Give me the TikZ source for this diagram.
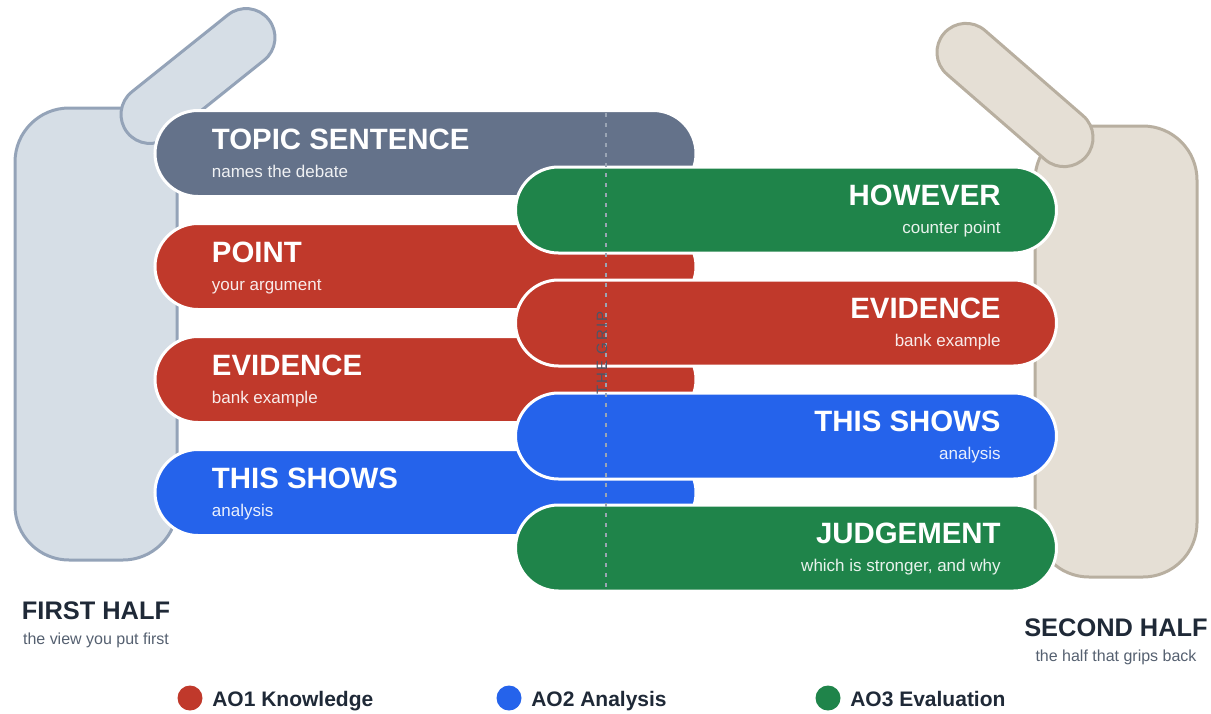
\documentclass[tikz,border=0pt]{standalone}
\usepackage{fontspec}
\setmainfont{Liberation Sans}
\usetikzlibrary{positioning}
\definecolor{slate}{HTML}{64728A}
\definecolor{aored}{HTML}{C0392B}
\definecolor{aoblue}{HTML}{2563EB}
\definecolor{aogreen}{HTML}{1F844A}
\definecolor{palmL}{HTML}{D6DEE6}
\definecolor{edgeL}{HTML}{94A3B8}
\definecolor{palmR}{HTML}{E5DFD5}
\definecolor{edgeR}{HTML}{B8AFA0}
\definecolor{ink}{HTML}{1F2937}
\definecolor{subink}{HTML}{556070}
\definecolor{gripink}{HTML}{4B5668}
\definecolor{gripgray}{HTML}{9AA5B4}

\tikzset{
 handL/.style={fill=palmL, draw=edgeL, line width=1.5pt},
 handR/.style={fill=palmR, draw=edgeR, line width=1.5pt},
 thumb/.style={minimum width=#1, minimum height=29pt, rounded corners=14.5pt, inner sep=0pt},
 bar/.style={draw=white, line width=1.5pt, minimum width=270.5pt, minimum height=43pt, rounded corners=21.5pt, inner sep=0pt},
 ttl/.style={text=white, font=\fontsize{14.7}{16}\selectfont\bfseries, inner sep=0pt},
 sub/.style={text=white, text opacity=.9, font=\fontsize{8.5}{10}\selectfont, inner sep=0pt},
 half/.style={text=ink, font=\fontsize{12.7}{14}\selectfont\bfseries, inner sep=0pt},
 halfsub/.style={text=subink, font=\fontsize{8}{10}\selectfont, inner sep=0pt},
 dot/.style={circle, minimum size=12.5pt, inner sep=0pt},
 legtxt/.style={text=ink, font=\fontsize{10.5}{12}\selectfont\bfseries, inner sep=0pt},
}

\begin{document}
\begin{tikzpicture}[x=0.5pt, y=-0.5pt]
\useasboundingbox (0,0) rectangle (1211,713);

% the two hands
\draw[handL, rounded corners=27pt] (15,108) rectangle (177,560);
\node[handL, thumb=90.5pt, rotate=38.7] (thumbL) at (198,76) {};
\draw[handR, rounded corners=27pt] (1035,126) rectangle (1197,577);
\node[handR, thumb=94pt, rotate=-41] (thumbR) at (1015,95) {};

% first half, left aligned text
\foreach \i/\col/\y/\ttl/\sub in {1/slate/153.5/TOPIC SENTENCE/names the debate,
  2/aored/266.5/POINT/your argument,
  3/aored/379.5/EVIDENCE/bank example,
  4/aoblue/492.5/THIS SHOWS/analysis} {
 \node[bar, fill=\col] (barL\i) at (425.5,\y) {};
 \node[ttl, anchor=base west] at ([xshift=29pt,yshift=-20pt]barL\i.north west) {\ttl};
 \node[sub, anchor=base west] at ([xshift=29pt,yshift=-34pt]barL\i.north west) {\sub};
}

% second half, right aligned text
\foreach \i/\col/\y/\ttl/\sub in {1/aogreen/210/HOWEVER/counter point,
  2/aored/323/EVIDENCE/bank example,
  3/aoblue/436/THIS SHOWS/analysis,
  4/aogreen/548/JUDGEMENT/{which is stronger, and why}} {
 \node[bar, fill=\col] (barR\i) at (786,\y) {};
 \node[ttl, anchor=base east] at ([xshift=-28.5pt,yshift=-20pt]barR\i.north east) {\ttl};
 \node[sub, anchor=base east] at ([xshift=-28.5pt,yshift=-34pt]barR\i.north east) {\sub};
}

% the grip
\coordinate (gtop) at (606,113);
\coordinate (gbot) at (606,588);
\draw[gripgray, line width=1pt, dash pattern=on 2pt off 3pt] (gtop) -- (gbot);
\node[text=gripink, rotate=90, inner sep=0pt, font=\fontsize{7.5}{8}\selectfont\addfontfeature{LetterSpace=14}] (grip) at (602,353) {THE GRIP};

% labels under the hands
\node[half] (first) at (96,611) {FIRST HALF};
\node[halfsub] (firstsub) at (96,640) {the view you put first};
\node[half] (second) at (1116,628) {SECOND HALF};
\node[halfsub] (secondsub) at (1116,657) {the half that grips back};

% legend
\foreach \k/\col/\x/\txt in {1/aored/190/AO1 Knowledge, 2/aoblue/509/AO2 Analysis, 3/aogreen/828/AO3 Evaluation} {
 \node[dot, fill=\col] (key\k) at (\x,698) {};
 \node[legtxt, anchor=base west] (keytxt\k) at ([xshift=4.5pt,yshift=-4pt]key\k.east) {\txt};
}
\end{tikzpicture}
\end{document}
